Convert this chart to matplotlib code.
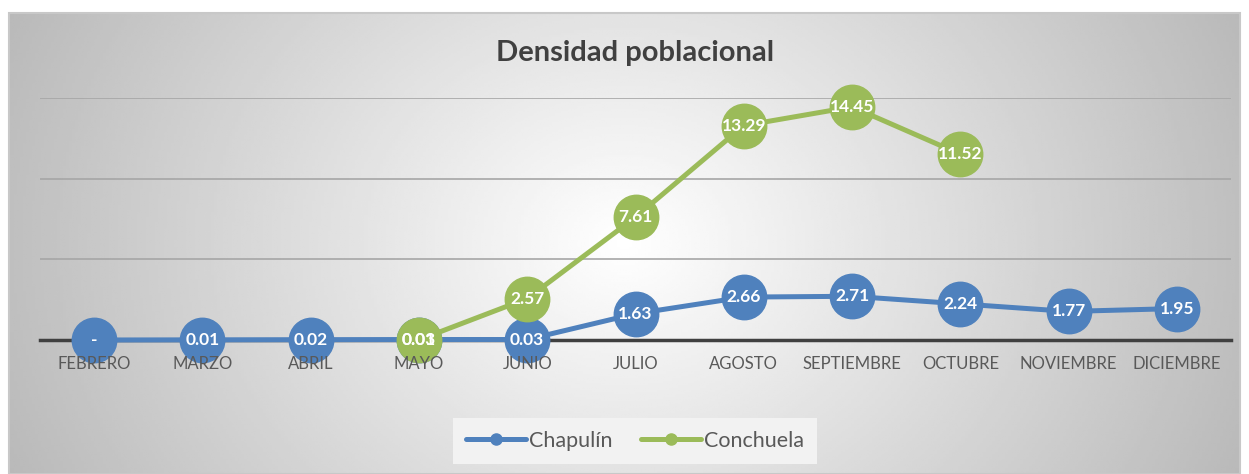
import matplotlib.pyplot as plt
import matplotlib.transforms as mtransforms
import numpy as np

meses = ["FEBRERO", "MARZO", "ABRIL", "MAYO", "JUNIO", "JULIO", "AGOSTO",
         "SEPTIEMBRE", "OCTUBRE", "NOVIEMBRE", "DICIEMBRE"]
chapulin = [0.0, 0.01, 0.02, 0.03, 0.03, 1.63, 2.66, 2.71, 2.24, 1.77, 1.95]
conchuela = [np.nan, np.nan, np.nan, 0.01, 2.57, 7.61, 13.29, 14.45, 11.52, np.nan, np.nan]

azul = "#4f81bd"
verde = "#9bbb59"
plt.rcParams['font.family'] = ['Lato', 'DejaVu Sans']

W, H = 1249, 474
fig = plt.figure(figsize=(W / 100, H / 100), dpi=100)
fig.patch.set_facecolor("white")

# background: radial-ish gradient, white in the middle, grey at the sides
bg = fig.add_axes([9 / W, 0, (1240 - 9) / W, (H - 13) / H], zorder=0)
gx, gy = np.meshgrid(np.linspace(-1, 1, 400), np.linspace(-1, 1, 200))
t = np.sqrt(gx ** 2 + (0.45 * gy) ** 2)
shade = 1 - 0.25 * np.clip(t, 0, 1.2)
bg.imshow(shade, cmap="gray", vmin=0, vmax=1, aspect="auto", extent=[0, 1, 0, 1])
bg.set_xlim(0, 1)
bg.set_ylim(0, 1)
bg.axis("off")
fig.add_artist(plt.Rectangle((9 / W, 0), (1240 - 9) / W, (H - 13) / H, transform=fig.transFigure,
                             fill=False, edgecolor="#c8c8c8", lw=1.5, zorder=1))

ax = fig.add_axes([40 / W, (H - 340) / H, (1231 - 40) / W, (340 - 98) / H], zorder=2)
ax.patch.set_alpha(0)
x = np.arange(len(meses))

ax.plot(x, chapulin, color=azul, lw=3.6, marker="o", ms=32, zorder=3, label="Chapulín",
        solid_capstyle="round", clip_on=False)
ax.plot(x, conchuela, color=verde, lw=3.6, marker="o", ms=32, zorder=4, label="Conchuela",
        solid_capstyle="round", clip_on=False)

for xi, v in zip(x, chapulin):
    ax.text(xi, v, "-" if v == 0 else f"{v:.2f}", ha="center", va="center", color="white",
            fontsize=12.5, fontweight="bold", zorder=5)
for xi, v in zip(x, conchuela):
    if not np.isnan(v):
        ax.text(xi, v, f"{v:.2f}", ha="center", va="center", color="white",
                fontsize=12.5, fontweight="bold", zorder=6)

ax.set_xlim(-0.5, len(meses) - 0.5)
ax.set_ylim(0, 15)
ax.set_yticks([0, 5, 10, 15])
ax.yaxis.grid(True, color="#a6a6a6", lw=1.2)
ax.set_axisbelow(True)
ax.tick_params(axis="y", left=False, labelleft=False)
ax.set_xticks(x)
ax.tick_params(axis="x", bottom=False, labelbottom=False)

# category labels drawn on top of the markers
off = mtransforms.offset_copy(ax.transData, fig=fig, x=0, y=-24, units="dots")
blend = mtransforms.blended_transform_factory(ax.transData, off)
for xi, m in zip(x, meses):
    ax.text(xi, 0, m, transform=off, ha="center", va="center", color="#595959",
            fontsize=12, zorder=7, clip_on=False)

for s in ["top", "right", "left"]:
    ax.spines[s].set_visible(False)
ax.spines["bottom"].set_color("#404040")
ax.spines["bottom"].set_linewidth(2.5)
ax.spines["bottom"].set_zorder(2.5)

fig.text(635 / W, 1 - 53 / H, "Densidad poblacional", ha="center", va="center",
         fontsize=21, fontweight="bold", color="#404040")

leg = ax.legend(loc="center", bbox_to_anchor=(635 / W, 1 - 441 / H), bbox_transform=fig.transFigure,
                ncol=2, frameon=True, fontsize=15.5, markerscale=0.25, handlelength=2.8,
                columnspacing=1.3, handletextpad=0.15, borderpad=0.6)
leg.get_frame().set_facecolor("#f2f2f2")
leg.get_frame().set_edgecolor("none")
leg.get_frame().set_alpha(1)
leg.get_frame().set_boxstyle("square", pad=0)
for txt in leg.get_texts():
    txt.set_color("#595959")

fig.savefig("out.png", dpi=100)
